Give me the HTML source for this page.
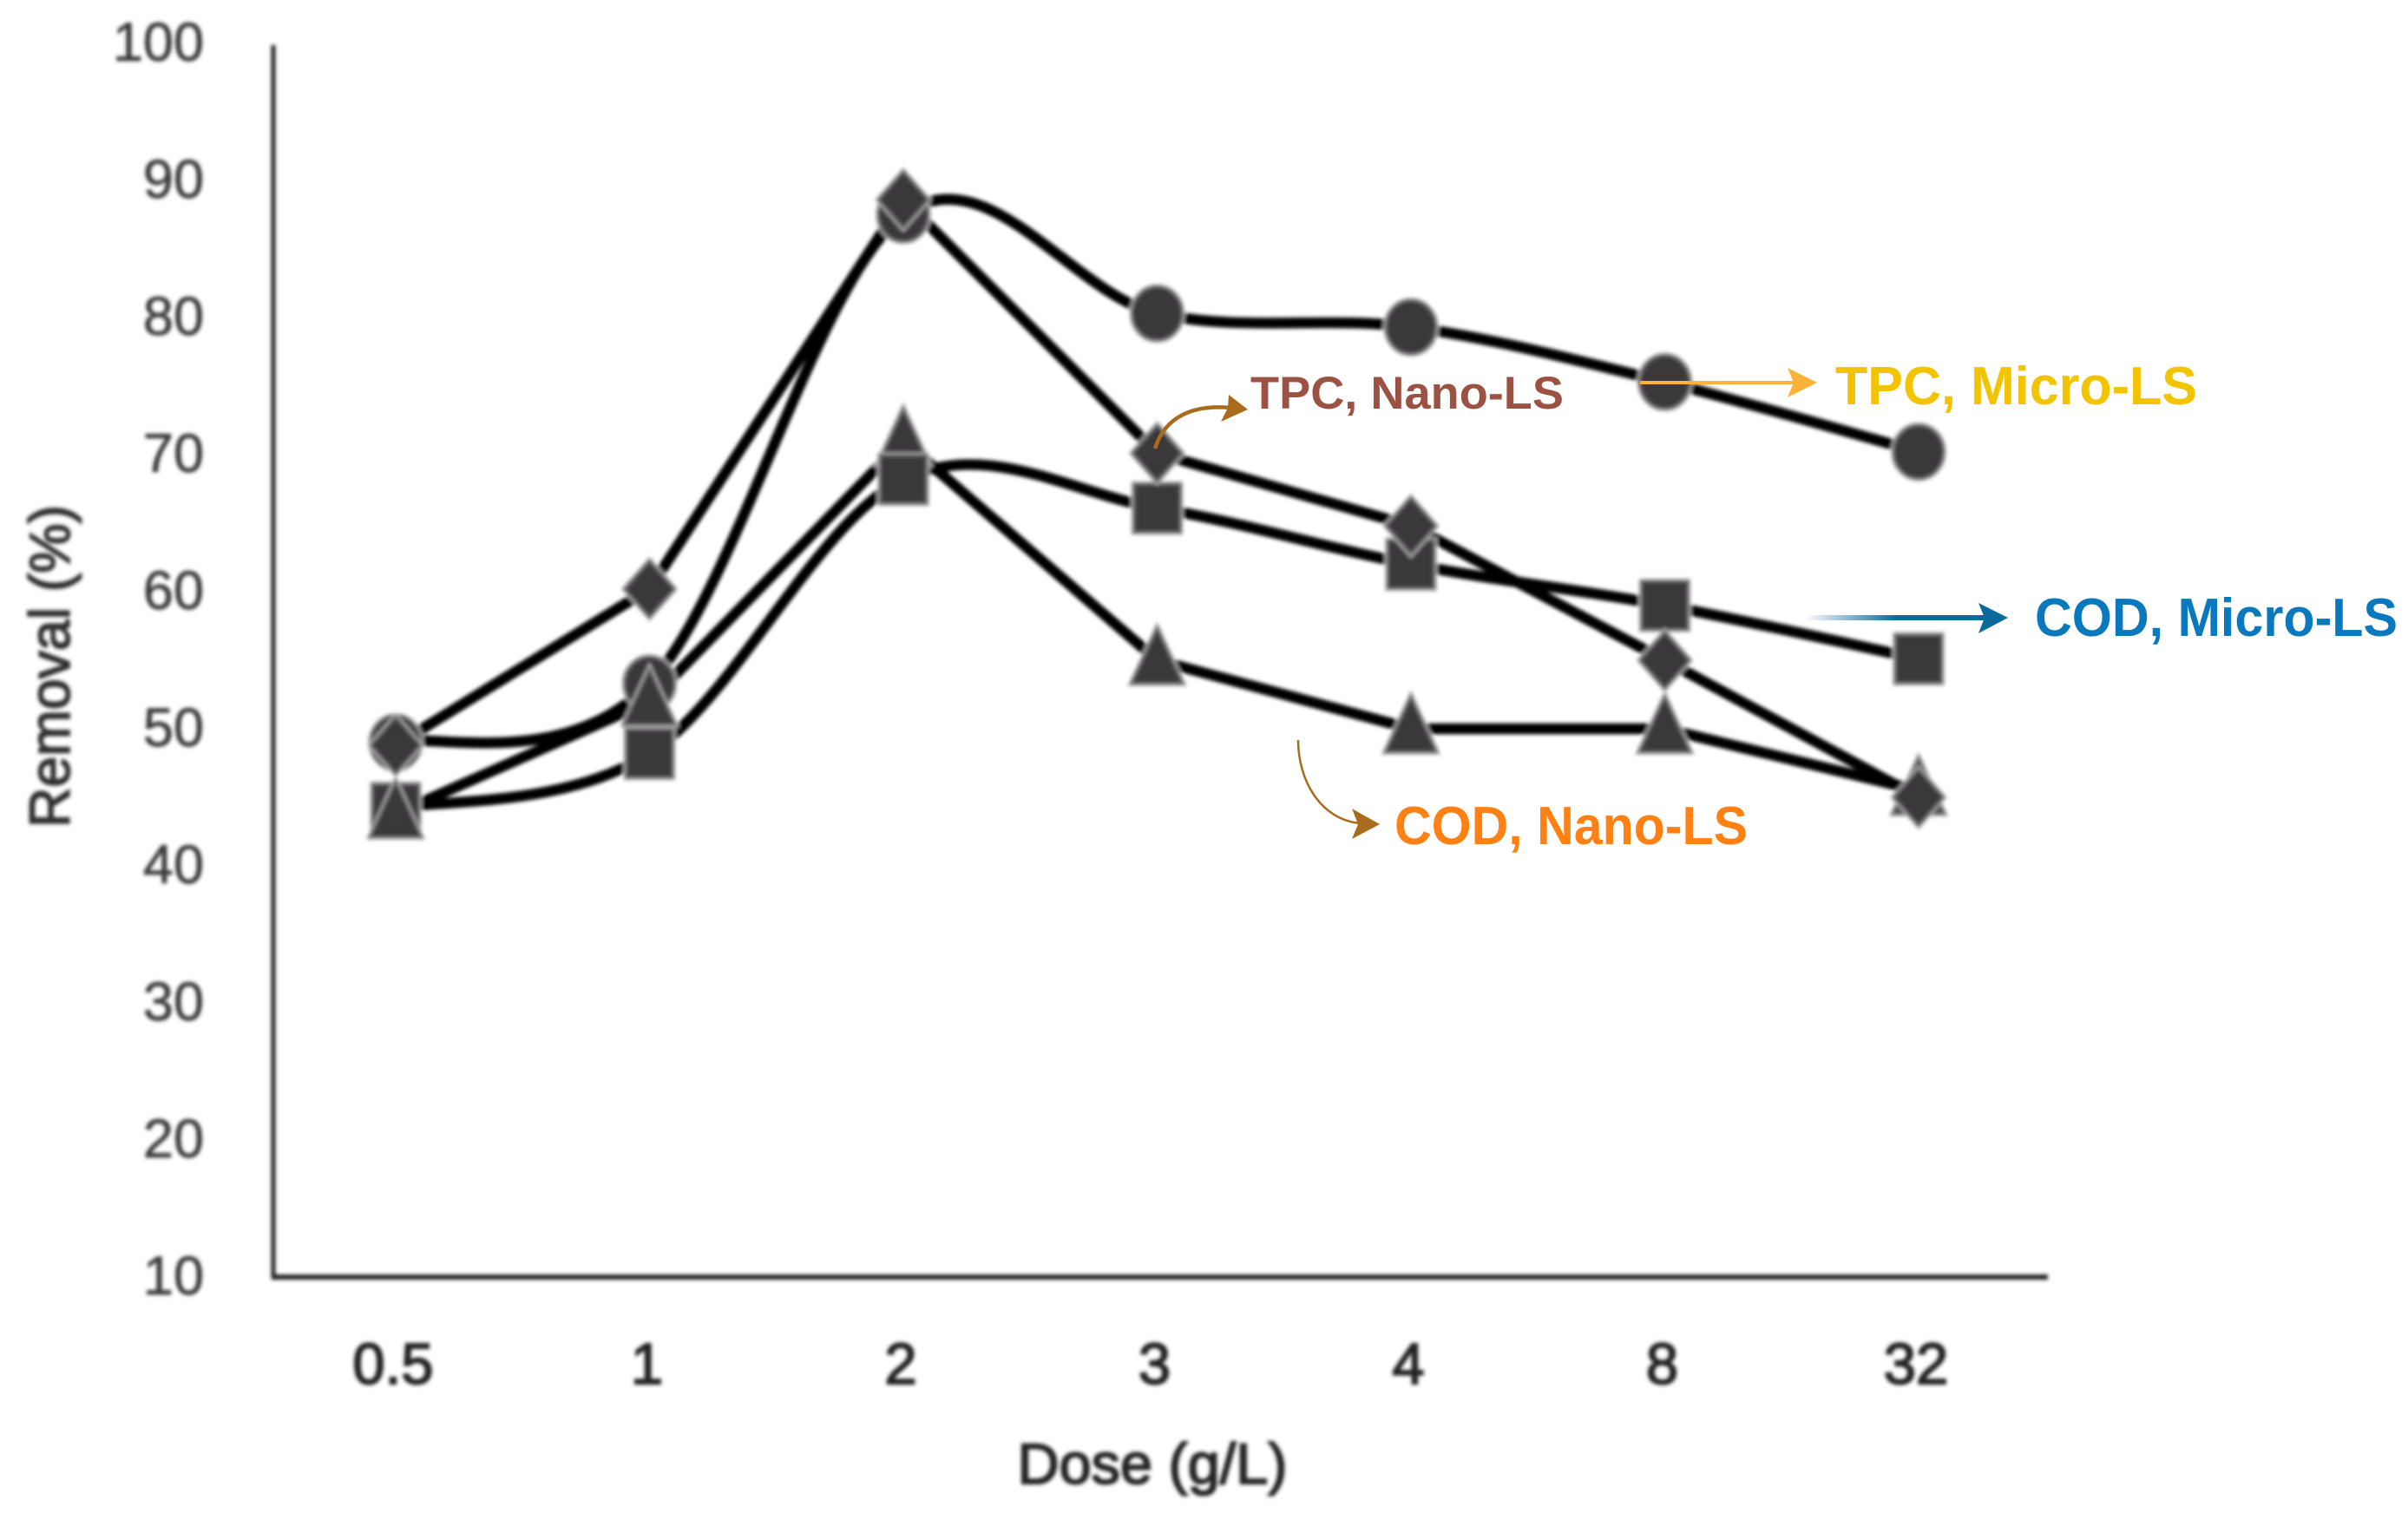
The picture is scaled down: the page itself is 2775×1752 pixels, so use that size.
<!DOCTYPE html>
<html lang="en">
<head>
<meta charset="utf-8">
<title>Removal versus dose</title>
<style>
html,body{margin:0;padding:0;background:#fff;}
body{width:2775px;height:1752px;overflow:hidden;}
svg{display:block;}
text{font-family:"Liberation Sans",sans-serif;}
</style>
</head>
<body>
<svg id="chart" xmlns="http://www.w3.org/2000/svg" width="2775" height="1752" viewBox="0 0 2775 1752">
  <defs>
    <filter id="soft" x="-5%" y="-5%" width="110%" height="110%"><feGaussianBlur stdDeviation="2"/></filter>
    <linearGradient id="blue-fade" gradientUnits="userSpaceOnUse" x1="2080" y1="0" x2="2290" y2="0">
      <stop offset="0" stop-color="#0a6a9c" stop-opacity="0"/>
      <stop offset="0.5" stop-color="#0a6a9c"/>
      <stop offset="1" stop-color="#0a6a9c"/>
    </linearGradient>
  </defs>
  <rect x="0" y="0" width="2775" height="1752" fill="#ffffff"/>
  <g id="plot" filter="url(#soft)">
    <line x1="315" y1="52" x2="315" y2="1474" stroke="#222" stroke-width="5"/>
    <line x1="313" y1="1472" x2="2360" y2="1472" stroke="#222" stroke-width="6"/>
    <g id="y-ticks"></g>
    <g id="x-ticks"></g>
    <text transform="translate(80 768) rotate(-90)" text-anchor="middle" font-size="66" fill="#2e2e2e" stroke="#2e2e2e" stroke-width="1.8" textLength="372" lengthAdjust="spacingAndGlyphs">Removal (%)</text>
    <text x="1328" y="1710" text-anchor="middle" font-size="66" fill="#222" stroke="#222" stroke-width="2" textLength="311" lengthAdjust="spacingAndGlyphs">Dose (g/L)</text>
    <g id="lines"></g>
    <g id="markers"></g>
  </g>
  <g id="annotations">
    <text x="1441" y="471" font-size="53" font-weight="bold" fill="#9c5243" textLength="361" lengthAdjust="spacingAndGlyphs">TPC, Nano-LS</text>
    <text x="2115" y="466" font-size="62" font-weight="bold" fill="#f2c400" textLength="417" lengthAdjust="spacingAndGlyphs">TPC, Micro-LS</text>
    <text x="2345" y="733" font-size="62" font-weight="bold" fill="#0a78bd" textLength="418" lengthAdjust="spacingAndGlyphs">COD, Micro-LS</text>
    <text x="1607" y="973" font-size="62" font-weight="bold" fill="#ff8113" textLength="407" lengthAdjust="spacingAndGlyphs">COD, Nano-LS</text>

    <g>
      <line x1="1890" y1="441" x2="2070" y2="441" stroke="#fdb33a" stroke-width="4"/>
      <polygon points="2060,424 2094,441 2060,458 2067,441" fill="#fdb33a"/>
    </g>
    <g>
      <rect x="2080" y="709" width="215" height="6" fill="url(#blue-fade)"/>
      <polygon points="2280,695 2314,712 2280,730 2287,712" fill="#0a6a9c"/>
    </g>
    <g>
      <path d="M1331 517 C1342 482,1372 466,1418 470" fill="none" stroke="#a86c1c" stroke-width="4.5"/>
      <polygon points="1416,455 1438,472 1407,486 1415,470" fill="#a86c1c"/>
    </g>
    <g>
      <path d="M1496 853 C1496 900,1522 945,1568 949" fill="none" stroke="#a86c1c" stroke-width="2.5"/>
      <polygon points="1558,932 1590,950 1558,967 1565,950" fill="#a86c1c"/>
    </g>
  </g>
</svg>
<script>
const doseLabels = ["0.5", "1", "2", "3", "4", "8", "32"];
const yTickLabels = [10, 20, 30, 40, 50, 60, 70, 80, 90, 100];
const tpcMicro = [49, 53.3, 87.5, 80.3, 79.3, 75.3, 70.2];
const tpcNano = [48.8, 60.2, 88.6, 70.1, 64.8, 55, 45];
const codMicro = [44.2, 48.2, 68.2, 66.1, 62, 59, 55.1];
const codNano = [43.8, 52, 71, 55, 50, 50, 45.5];

const NS = "http://www.w3.org/2000/svg";
function xScale(i) { return 456 + i * 292.5; }
function yScale(v) { return 1472 - (v - 10) * 15.8; }

const linesLayer = document.getElementById("lines");
const markersLayer = document.getElementById("markers");
const yTicksLayer = document.getElementById("y-ticks");
const xTicksLayer = document.getElementById("x-ticks");

yTickLabels.forEach(function (v) {
  const t = document.createElementNS(NS, "text");
  
  
  t.setAttribute("x", 235);
  t.setAttribute("y", yScale(v) + 20);
  t.setAttribute("text-anchor", "end");
  t.setAttribute("font-size", 63);
  t.setAttribute("fill", "#3a3a3a");
  t.setAttribute("stroke", "#3a3a3a");
  t.setAttribute("stroke-width", 0.8);
  t.textContent = v;
  yTicksLayer.appendChild(t);
});

doseLabels.forEach(function (label, i) {
  const t = document.createElementNS(NS, "text");
  
  
  t.setAttribute("x", xScale(i) - 3);
  t.setAttribute("y", 1595);
  t.setAttribute("text-anchor", "middle");
  t.setAttribute("font-size", 67);
  t.setAttribute("fill", "#222");
  t.setAttribute("stroke", "#222");
  t.setAttribute("stroke-width", 2);
  t.textContent = label;
  xTicksLayer.appendChild(t);
});

function straightPath(values) {
  return values.map(function (v, i) {
    return (i ? "L" : "M") + xScale(i) + " " + yScale(v);
  }).join(" ");
}

function smoothPath(values) {
  const pts = values.map(function (v, i) { return [xScale(i), yScale(v)]; });
  let d = "M" + pts[0][0] + " " + pts[0][1];
  for (let i = 0; i < pts.length - 1; i++) {
    const p0 = pts[Math.max(i - 1, 0)];
    const p1 = pts[i];
    const p2 = pts[i + 1];
    const p3 = pts[Math.min(i + 2, pts.length - 1)];
    const c1x = p1[0] + (p2[0] - p0[0]) / 6;
    const c1y = p1[1] + (p2[1] - p0[1]) / 6;
    const c2x = p2[0] - (p3[0] - p1[0]) / 6;
    const c2y = p2[1] - (p3[1] - p1[1]) / 6;
    d += " C" + c1x + " " + c1y + " " + c2x + " " + c2y + " " + p2[0] + " " + p2[1];
  }
  return d;
}

function addLine(d, name) {
  const p = document.createElementNS(NS, "path");
  
  
  p.setAttribute("d", d);
  p.setAttribute("fill", "none");
  p.setAttribute("stroke", "#000");
  p.setAttribute("stroke-width", 12.5);
  p.setAttribute("stroke-linejoin", "round");
  linesLayer.appendChild(p);
}

addLine(smoothPath(tpcMicro), 'line-tpc-micro');
addLine(straightPath(tpcNano), 'line-tpc-nano');
addLine(smoothPath(codMicro), 'line-cod-micro');
addLine(straightPath(codNano), 'line-cod-nano');

function markerShape(kind, x, y) {
  let el;
  if (kind === "circle") {
    el = document.createElementNS(NS, "ellipse");
    el.setAttribute("cx", x);
    el.setAttribute("cy", y);
    el.setAttribute("rx", 29);
    el.setAttribute("ry", 31);
  } else if (kind === "square") {
    el = document.createElementNS(NS, "rect");
    el.setAttribute("x", x - 27);
    el.setAttribute("y", y - 28);
    el.setAttribute("width", 54);
    el.setAttribute("height", 56);
  } else if (kind === "diamond") {
    el = document.createElementNS(NS, "polygon");
    el.setAttribute("points", (x - 29) + "," + y + " " + x + "," + (y - 33) + " " + (x + 29) + "," + y + " " + x + "," + (y + 33));
  } else {
    el = document.createElementNS(NS, "polygon");
    el.setAttribute("points", (x - 30) + "," + (y + 27) + " " + x + "," + (y - 38) + " " + (x + 30) + "," + (y + 27));
  }
  return el;
}

function addMarker(kind, v, i, name) {
  const x = xScale(i);
  const y = yScale(v);
  const halo = markerShape(kind, x, y);
  
  
  halo.setAttribute("fill", "none");
  halo.setAttribute("stroke", "#bdbdbd");
  halo.setAttribute("stroke-width", 6);
  markersLayer.appendChild(halo);
  const m = markerShape(kind, x, y);
  
  
  m.setAttribute("fill", "#3a383a");
  m.setAttribute("stroke", "#6e6e6e");
  m.setAttribute("stroke-width", 3);
  markersLayer.appendChild(m);
}

doseLabels.forEach(function (label, i) {
  addMarker("circle", tpcMicro[i], i, 'marker-tpc-micro');
  if (i === 0) {
    addMarker("square", codMicro[i], i, 'marker-cod-micro');
    addMarker("triangle", codNano[i], i, 'marker-cod-nano');
  } else {
    addMarker("triangle", codNano[i], i, 'marker-cod-nano');
    addMarker("square", codMicro[i], i, 'marker-cod-micro');
  }
  addMarker("diamond", tpcNano[i], i, 'marker-tpc-nano');
});
</script>
</body>
</html>
